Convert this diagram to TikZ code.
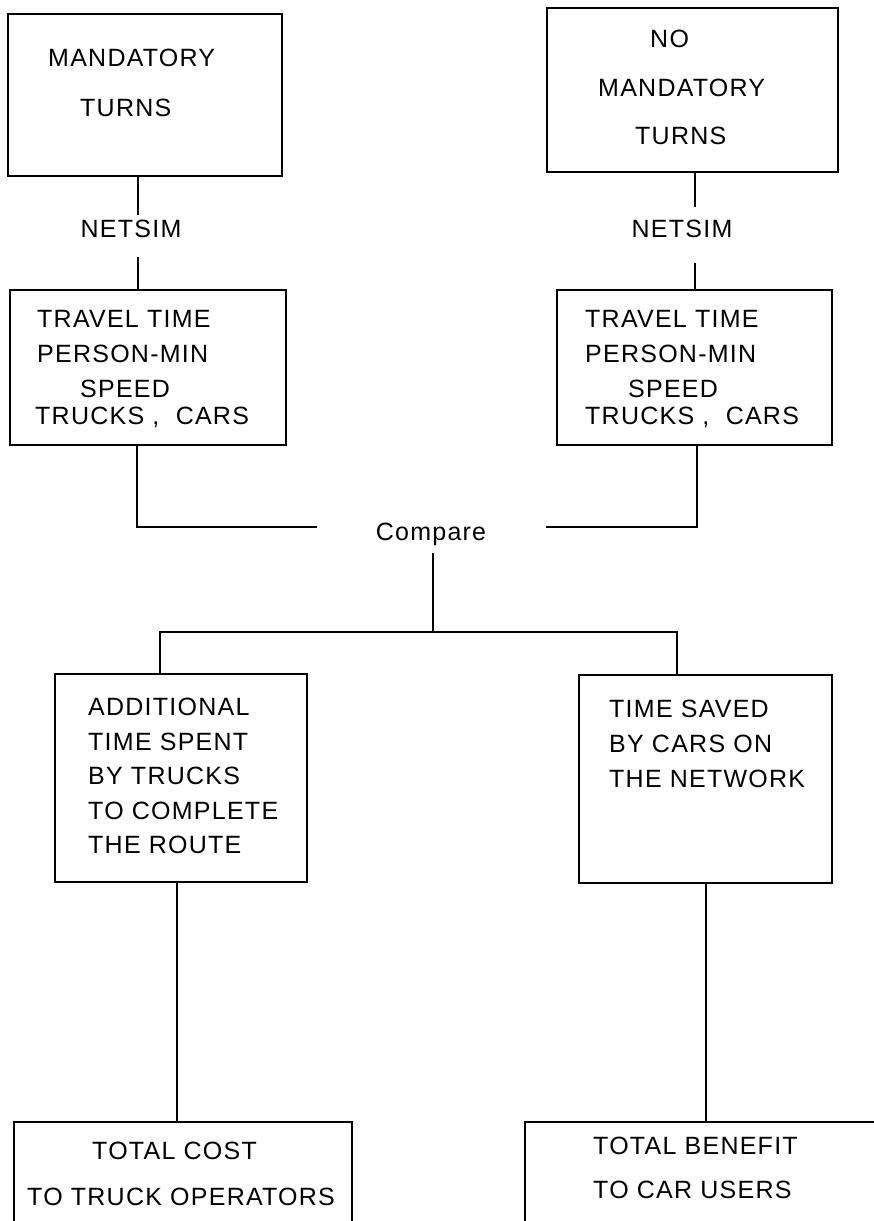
\documentclass[tikz,border=0pt]{standalone}
\usepackage{fontspec}
\setmainfont{Liberation Sans}[LetterSpace=5]
\usetikzlibrary{fit}
\begin{document}
\begin{tikzpicture}[x=1pt,y=-1pt,
  box/.style={draw, line width=1.6pt, inner sep=0pt},
  txt/.style={anchor=base west, inner sep=0pt, font=\fontsize{25}{30}\selectfont},
  mid/.style={anchor=base, inner sep=0pt, font=\fontsize{25}{30}\selectfont},
  wire/.style={line width=1.6pt}]
\fill[white] (0,0) rectangle (873,1221);
\useasboundingbox (0,0) rectangle (873,1221);

% boxes
\node[box, fit={(8,14) (282,176)}] (b1) {};
\node[box, fit={(547,8) (838,172)}] (b2) {};
\node[box, fit={(10,290) (286,445)}] (b3) {};
\node[box, fit={(557,290) (832,445)}] (b4) {};
\node[box, fit={(55,674) (307,882)}] (b5) {};
\node[box, fit={(579,675) (832,883)}] (b6) {};
\node[box, fit={(14,1122) (352,1260)}] (b7) {};
\node[box, fit={(525,1122) (900,1260)}] (b8) {};

% box texts
\node[txt] (t1a) at (48,66) {MANDATORY};
\node[txt] (t1b) at (80,116) {TURNS};

\node[txt] (t2a) at (650,47) {NO};
\node[txt] (t2b) at (598,96) {MANDATORY};
\node[txt] (t2c) at (635,144) {TURNS};

\node[txt] (t3a) at (37,327) {TRAVEL TIME};
\node[txt] (t3b) at (37,362) {PERSON-MIN};
\node[txt] (t3c) at (80,397) {SPEED};
\node[txt] (t3d) at (35,424) {TRUCKS , \ CARS};

\node[txt] (t4a) at (585,327) {TRAVEL TIME};
\node[txt] (t4b) at (585,362) {PERSON-MIN};
\node[txt] (t4c) at (628,397) {SPEED};
\node[txt] (t4d) at (585,424) {TRUCKS , \ CARS};

\node[txt] (t5a) at (88,715) {ADDITIONAL};
\node[txt] (t5b) at (88,750) {TIME SPENT};
\node[txt] (t5c) at (88,784) {BY TRUCKS};
\node[txt] (t5d) at (88,819) {TO COMPLETE};
\node[txt] (t5e) at (88,853) {THE ROUTE};

\node[txt] (t6a) at (609,717) {TIME SAVED};
\node[txt] (t6b) at (609,752) {BY CARS ON};
\node[txt] (t6c) at (609,787) {THE NETWORK};

\node[txt] (t7a) at (92,1159) {TOTAL COST};
\node[txt] (t7b) at (27,1205) {TO TRUCK OPERATORS};

\node[txt] (t8a) at (593,1154) {TOTAL BENEFIT};
\node[txt] (t8b) at (593,1198) {TO CAR USERS};

% free labels
\node[mid] (ns1) at (131,237) {NETSIM};
\node[mid] (ns2) at (682,237) {NETSIM};
\node[mid] (cmp) at (431,540) {Compare};

% junction points
\coordinate (a1) at (138,215);
\coordinate (a2) at (138,257);
\coordinate (c1) at (695,207);
\coordinate (c2) at (695,263);
\coordinate (jl) at (137,527);
\coordinate (el) at (317,527);
\coordinate (jr) at (697,527);
\coordinate (er) at (546,527);
\coordinate (ct) at (433,553);
\coordinate (cb) at (433,632);
\coordinate (bl) at (160,632);
\coordinate (br) at (677,632);
\coordinate (d5) at (177,882);
\coordinate (d6) at (706,883);

% connectors
\draw[wire] (a1 |- b1.south) -- (a1);
\draw[wire] (a2) -- (a2 |- b3.north);
\draw[wire] (c1 |- b2.south) -- (c1);
\draw[wire] (c2) -- (c2 |- b4.north);
\draw[wire] (jl |- b3.south) -- (jl) -- (el);
\draw[wire] (jr |- b4.south) -- (jr) -- (er);
\draw[wire] (ct) -- (cb);
\draw[wire] (bl |- b5.north) -- (bl) -- (br) -- (br |- b6.north);
\draw[wire] (d5 |- b5.south) -- (d5 |- b7.north);
\draw[wire] (d6 |- b6.south) -- (d6 |- b8.north);
\end{tikzpicture}
\end{document}
